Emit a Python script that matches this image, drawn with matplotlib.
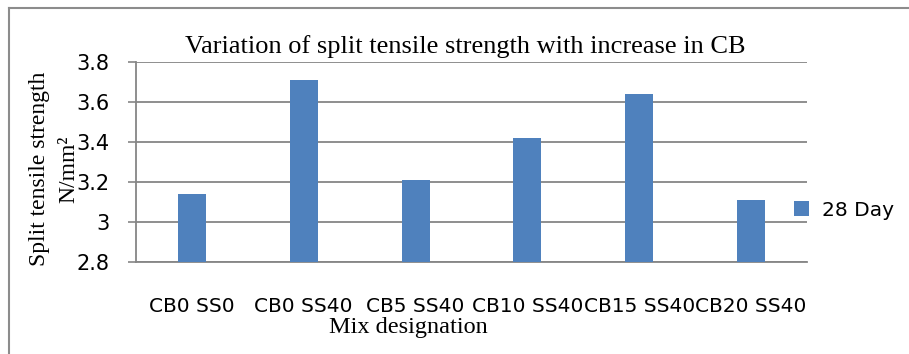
#!/usr/bin/env python3
"""
Split tensile strength bar chart (28 day) by mix designation.
"""
import matplotlib
matplotlib.use('Agg')
import matplotlib.pyplot as plt
from matplotlib.lines import Line2D
import numpy as np

mixes = ['CB0 SS0', 'CB0 SS40', 'CB5 SS40', 'CB10 SS40', 'CB15 SS40', 'CB20 SS40']
day28 = [3.14, 3.71, 3.21, 3.42, 3.64, 3.11]
yticks = [2.8, 3.0, 3.2, 3.4, 3.6, 3.8]
ytick_labels = ['2.8', '3', '3.2', '3.4', '3.6', '3.8']

W, H = 909, 354
BLUE = '#4F81BD'
GREY = '#868686'
SERIF = 'Liberation Serif'

fig = plt.figure(figsize=(W / 100, H / 100), dpi=100)
ax = fig.add_axes([136 / W, 92 / H, 671 / W, 200 / H])

x = np.arange(len(mixes))
ax.bar(x, day28, width=0.25, color=BLUE, label='28 Day', zorder=3)
ax.set_xlim(-0.5, len(mixes) - 0.5)
ax.set_ylim(2.8, 3.8)

ax.set_yticks(yticks)
ax.set_yticklabels(ytick_labels, fontsize=15, family='DejaVu Sans')
ax.set_xticks(x)
ax.set_xticklabels(mixes, fontsize=14.5, family='DejaVu Sans')
ax.tick_params(axis='y', length=6, width=1.2, color=GREY, pad=13)
ax.tick_params(axis='x', length=0, pad=25)

ax.yaxis.grid(True, color=GREY, lw=1.3, zorder=0)
for s in ['top', 'right']:
    ax.spines[s].set_visible(False)
for s in ['left', 'bottom']:
    ax.spines[s].set_color(GREY)
    ax.spines[s].set_linewidth(1.3)

# titles in serif, placed like the original
fig.text(465 / W, 1 - 53 / H, 'Variation of split tensile strength with increase in CB',
         ha='center', va='baseline', fontsize=19, family=SERIF)
fig.text(329 / W, 1 - 333 / H, 'Mix designation', ha='left', va='baseline',
         fontsize=17.5, family=SERIF)
fig.text(39.5 / W, 1 - 169 / H, 'Split tensile strength', rotation=90,
         ha='center', va='center', fontsize=17, family=SERIF)
fig.text(69 / W, 1 - 169 / H, 'N/mm²', rotation=90,
         ha='center', va='center', fontsize=17, family=SERIF)

ax.legend(loc='center left', bbox_to_anchor=(794 / W, 1 - 210 / H),
          bbox_transform=fig.transFigure, frameon=False, borderpad=0,
          borderaxespad=0, handlelength=0.75, handleheight=0.75,
          handletextpad=0.65, prop={'family': 'DejaVu Sans', 'size': 14.5})

# chart frame (only left and top edges are visible)
fig.add_artist(Line2D([9 / W, 9 / W], [0, 1 - 8 / H], color='#8c8c8c', lw=1.5))
fig.add_artist(Line2D([9 / W, 1], [1 - 8 / H, 1 - 8 / H], color='#8c8c8c', lw=1.5))

fig.savefig('out.png', dpi=100)
